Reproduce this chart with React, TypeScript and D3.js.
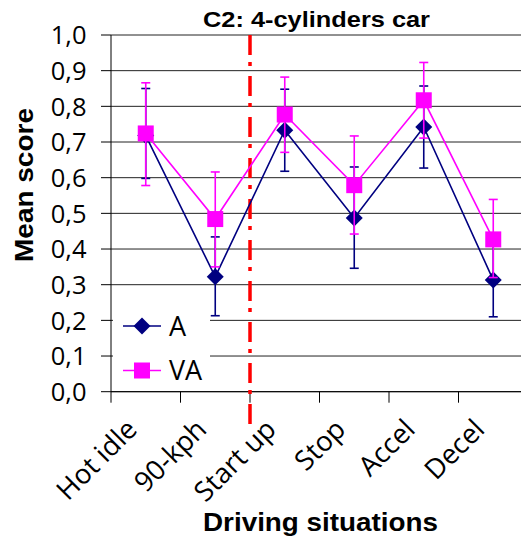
import React from "react";
import * as d3 from "d3";

const categories = ["Hot idle", "90-kph", "Start up", "Stop", "Accel", "Decel"];
const seriesNames = ["A", "VA"];
const valuesA = [0.718, 0.322, 0.733, 0.487, 0.742, 0.313];
const lowA = [0.598, 0.213, 0.618, 0.346, 0.627, 0.21];
const highA = [0.85, 0.434, 0.848, 0.63, 0.857, 0.41];
const valuesVA = [0.724, 0.484, 0.777, 0.579, 0.817, 0.427];
const lowVA = [0.578, 0.35, 0.671, 0.442, 0.711, 0.32];
const highVA = [0.866, 0.616, 0.882, 0.717, 0.923, 0.539];
const yTicks = [0, 0.1, 0.2, 0.3, 0.4, 0.5, 0.6, 0.7, 0.8, 0.9, 1.0];
const title = "C2: 4-cylinders car";
const xTitle = "Driving situations";
const yTitle = "Mean score";

const W = 521;
const H = 544;
const left = 111;
const step = 69.5;
const top = 35;
const bottom = 391.7;

export default function App() {
  const x = d3
    .scaleBand<string>()
    .domain(categories)
    .range([left, left + step * categories.length])
    .padding(0);
  const y = d3.scaleLinear().domain([0, 1]).range([bottom, top]);
  const cx = (c: string) => (x(c) as number) + x.bandwidth() / 2;
  const fmt = (v: number) => d3.format(".1f")(v).replace(".", ",");

  const line = d3
    .line<number>()
    .x((_, i) => cx(categories[i]))
    .y((v) => y(v));

  const series = [
    { name: seriesNames[0], vals: valuesA, lo: lowA, hi: highA, color: "#000080", marker: "diamond" },
    { name: seriesNames[1], vals: valuesVA, lo: lowVA, hi: highVA, color: "#FF00FF", marker: "square" },
  ];

  const marker = (m: string, px: number, py: number, color: string, key: any) =>
    m === "diamond" ? (
      <path
        key={key}
        d={`M${px},${py - 8.5}L${px + 8.5},${py}L${px},${py + 8.5}L${px - 8.5},${py}Z`}
        fill={color}
      />
    ) : (
      <rect key={key} x={px - 8} y={py - 8} width={16} height={16} fill={color} />
    );

  const tickFont = "'Open Sans', 'Noto Sans', sans-serif";
  const boldFont = "'Liberation Sans', Arial, sans-serif";

  return (
    <svg width={W} height={H} style={{ position: "absolute", left: 0, top: 0 }}>
      <rect x={0} y={0} width={W} height={H} fill="#fff" />
      {/* gridlines */}
      {yTicks.map((t) => (
        <line key={"g" + t} x1={left} x2={W} y1={y(t)} y2={y(t)} stroke="#222" strokeWidth={1} />
      ))}
      {/* legend box background */}
      <rect x={113} y={304} width={97} height={86} fill="#fff" />
      {/* y axis */}
      <line x1={left} x2={left} y1={top} y2={bottom} stroke="#000" strokeWidth={1} />
      {yTicks.map((t) => (
        <g key={"yt" + t}>
          <line x1={left - 10} x2={left} y1={y(t)} y2={y(t)} stroke="#000" />
          <text
            x={86.5}
            y={y(t)}
            dy="0.36em"
            textAnchor="end"
            fontFamily={tickFont}
            fontSize={25.5}
            fill="#000"
          >
            {fmt(t)}
          </text>
        </g>
      ))}
      {/* x axis */}
      <line x1={left} x2={W} y1={bottom} y2={bottom} stroke="#000" />
      {d3.range(categories.length + 1).map((i) => (
        <line
          key={"xt" + i}
          x1={left + step * i}
          x2={left + step * i}
          y1={bottom}
          y2={bottom + 11}
          stroke="#000"
        />
      ))}
      {categories.map((c) => (
        <text
          key={"xl" + c}
          transform={`translate(${cx(c) - 7},${431}) rotate(-45)`}
          textAnchor="end"
          fontFamily={tickFont}
          fontSize={27.5}
          fill="#000"
        >
          {c}
        </text>
      ))}
      {/* red dashed divider */}
      <line
        x1={left + step * 2}
        x2={left + step * 2}
        y1={top}
        y2={424}
        stroke="#FF0000"
        strokeWidth={3.5}
        strokeDasharray="20 7 4 10"
      />
      {/* series */}
      {series.map((s) => (
        <g key={s.name}>
          <path d={line(s.vals) as string} fill="none" stroke={s.color} strokeWidth={1.6} />
          {s.vals.map((v, i) => {
            const px = cx(categories[i]);
            return (
              <g key={i}>
                <line x1={px} x2={px} y1={y(s.lo[i])} y2={y(s.hi[i])} stroke={s.color} strokeWidth={1.6} />
                <line x1={px - 4.5} x2={px + 4.5} y1={y(s.lo[i])} y2={y(s.lo[i])} stroke={s.color} strokeWidth={1.6} />
                <line x1={px - 4.5} x2={px + 4.5} y1={y(s.hi[i])} y2={y(s.hi[i])} stroke={s.color} strokeWidth={1.6} />
              </g>
            );
          })}
          {s.vals.map((v, i) => marker(s.marker, cx(categories[i]), y(v), s.color, "m" + i))}
        </g>
      ))}
      {/* legend */}
      {series.map((s, i) => {
        const ly = 326 + i * 44.5;
        return (
          <g key={"lg" + s.name}>
            <line x1={123} x2={161} y1={ly} y2={ly} stroke={s.color} strokeWidth={1.6} />
            {marker(s.marker, 142, ly, s.color, "lm")}
            <text x={169} y={ly} dy="0.36em" fontFamily={tickFont} fontSize={27} fill="#000">
              {s.name}
            </text>
          </g>
        );
      })}
      {/* titles */}
      <text
        x={316.5}
        y={27}
        textAnchor="middle"
        fontFamily={boldFont}
        fontWeight="bold"
        fontSize={22.5}
        textLength={227}
        lengthAdjust="spacingAndGlyphs"
        fill="#000"
      >
        {title}
      </text>
      <text
        x={320.5}
        y={531}
        textAnchor="middle"
        fontFamily={boldFont}
        fontWeight="bold"
        fontSize={26}
        textLength={235}
        lengthAdjust="spacingAndGlyphs"
        fill="#000"
      >
        {xTitle}
      </text>
      <text
        transform={`translate(33,185) rotate(-90)`}
        textAnchor="middle"
        fontFamily={boldFont}
        fontWeight="bold"
        fontSize={26}
        textLength={154}
        lengthAdjust="spacingAndGlyphs"
        fill="#000"
      >
        {yTitle}
      </text>
    </svg>
  );
}
